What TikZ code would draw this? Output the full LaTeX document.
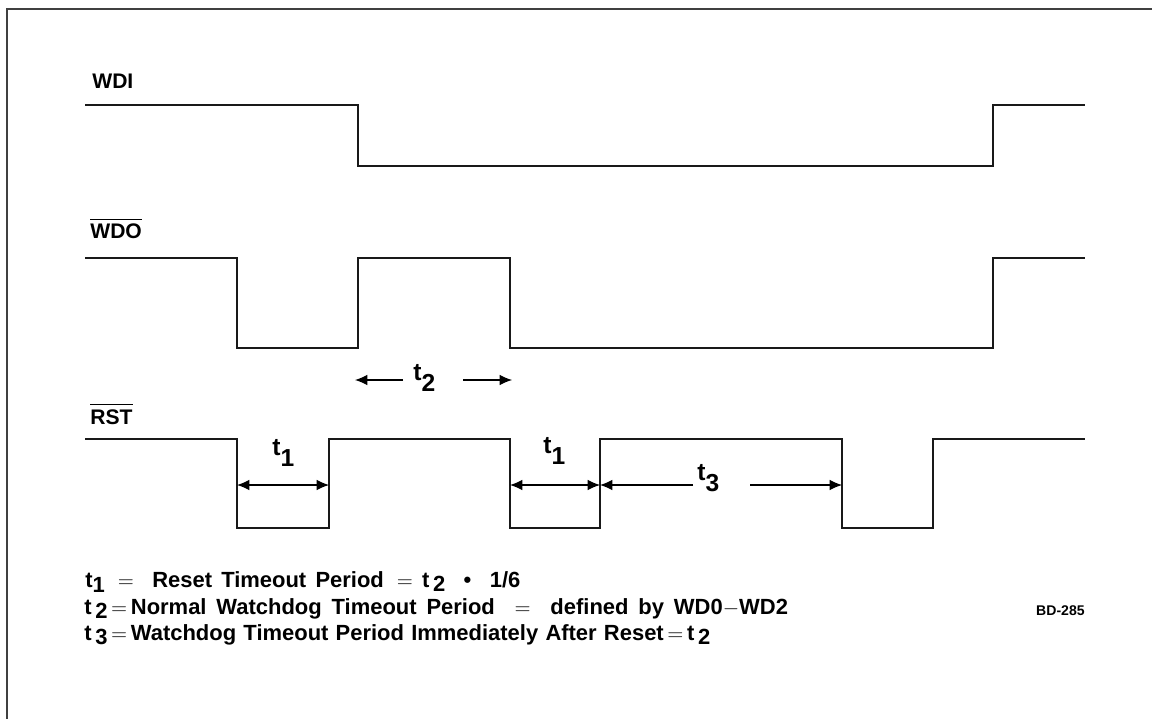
\documentclass[tikz,border=0pt]{standalone}
\usepackage{fontspec}
\setmainfont{Liberation Sans}
\usetikzlibrary{arrows.meta}

\tikzset{
  wave/.style={line width=0.8pt, black!90},
  sig/.style={font=\bfseries\fontsize{12}{14}\selectfont, anchor=base west, inner sep=0pt},
  tlabel/.style={font=\bfseries\fontsize{14}{16}\selectfont, anchor=base west, inner sep=0pt},
  dim/.style={line width=0.6pt, -{Latex[length=7pt,width=6pt]}},
  dimboth/.style={line width=0.6pt, {Latex[length=7pt,width=6pt]}-{Latex[length=7pt,width=6pt]}},
  legend/.style={font=\bfseries\fontsize{12.5}{14}\selectfont, anchor=base west, inner sep=0pt},
}
\newcommand{\dn}[2][0.45em]{\raisebox{-#1}{#2}}

\begin{document}
\begin{tikzpicture}[x=0.02cm, y=-0.02cm]
    \useasboundingbox (0,0) rectangle (1152,719);
    % Rahmen
    \draw[line width=1pt, black!75] (7,719) -- (7,9) -- (1152,9);

    % WDI
    \node[sig] (wdi) at (92,89) {WDI};
    \draw[wave] (85,105) -- (358,105) -- (358,166) -- (993,166) -- (993,105) -- (1085,105);

    % WDO (invertiert)
    \node[sig] (wdo) at (90,239) {WDO};
    \draw[line width=0.7pt] ([yshift=2.5pt]wdo.north west) -- ([yshift=2.5pt]wdo.north east);
    \draw[wave] (85,258) -- (237,258) -- (237,348) -- (358,348) -- (358,258) -- (510,258)
        -- (510,348) -- (993,348) -- (993,258) -- (1085,258);

    % t2
    \coordinate (t2l) at (355,380);
    \coordinate (t2a) at (403,380);
    \coordinate (t2b) at (463,380);
    \coordinate (t2r) at (512,380);
    \node[tlabel] (t2) at (413,380) {t\dn{2}};
    \draw[dim] (t2a) -- (t2l);
    \draw[dim] (t2b) -- (t2r);

    % RST (invertiert)
    \node[sig] (rst) at (90,424) {RST};
    \draw[line width=0.7pt] ([yshift=2.5pt]rst.north west) -- ([yshift=2.5pt]rst.north east);
    \draw[wave] (85,439) -- (237,439) -- (237,528) -- (329,528) -- (329,439) -- (510,439)
        -- (510,528) -- (600,528) -- (600,439) -- (842,439) -- (842,528) -- (933,528)
        -- (933,439) -- (1085,439);

    % t1, t1, t3
    \coordinate (r1) at (237,485);
    \coordinate (r2) at (329,485);
    \coordinate (r3) at (510,485);
    \coordinate (r4) at (600,485);
    \coordinate (r5) at (693,485);
    \coordinate (r6) at (750,485);
    \coordinate (r7) at (842,485);
    \node[tlabel] (t1a) at (272,455) {t\dn{1}};
    \node[tlabel] (t1b) at (543,453) {t\dn{1}};
    \node[tlabel] (t3) at (697,480) {t\dn{3}};
    \draw[dimboth] (r1) -- (r2);
    \draw[dimboth] (r3) -- (r4);
    \draw[dim] (r5) -- (r4);
    \draw[dim] (r6) -- (r7);

    % Legende
    \node[legend] (leg1) at (85,587) {\spaceskip=0.42em t\dn[3pt]{1} \,$=$\ \ Reset Timeout Period \,$=$\ t\,\dn[2.5pt]{2} \ \textbullet\ \ 1/6};
    \node[legend] (leg2) at (84,614) {\spaceskip=0.45em t\,\dn[2.5pt]{2}\,$=$\,Normal Watchdog Timeout Period \ $=$\ \ defined by WD0$-$WD2};
    \node[legend] (leg3) at (84,640) {\spaceskip=0.33em t\,\dn[2.5pt]{3}\,$=$\,Watchdog Timeout Period Immediately After Reset\,$=$\,t\,\dn[2.5pt]{2}};
    \node[font=\bfseries\fontsize{8}{9}\selectfont, anchor=base east, inner sep=0pt] (bd) at (1085,615) {BD-285};
\end{tikzpicture}
\end{document}
